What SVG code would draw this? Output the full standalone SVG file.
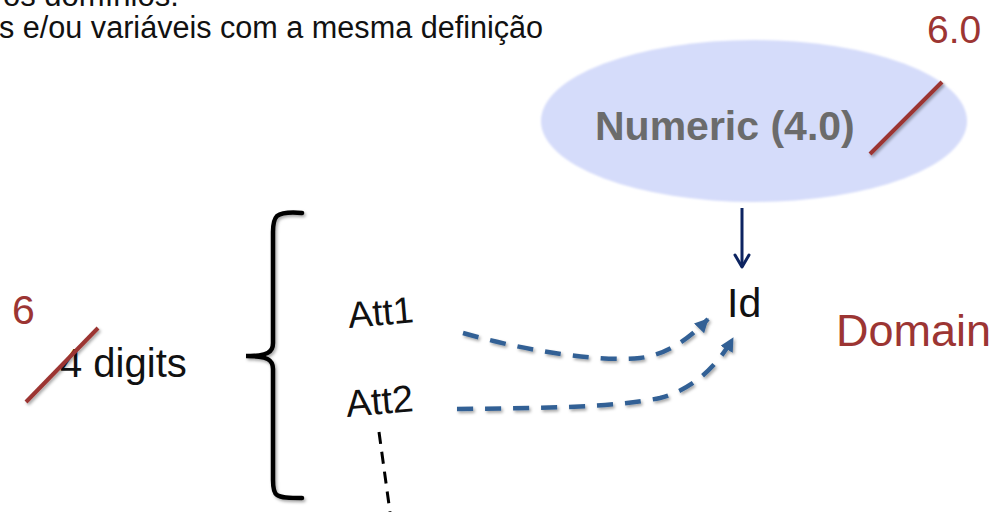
<svg xmlns="http://www.w3.org/2000/svg" width="997" height="512" viewBox="0 0 997 512">
<defs>
<style>
.txt{font-family:"Liberation Sans",Arial,sans-serif;fill:#111}
.red{font-family:"Liberation Sans",Arial,sans-serif;fill:#9c3533}
.slash{stroke:#9c3533;stroke-width:4;stroke-linecap:butt;fill:none}
.blue{stroke:#336195;stroke-width:4.5;fill:none;stroke-dasharray:16 12}
</style>
<filter id="sh" x="-20%" y="-20%" width="140%" height="140%">
<feDropShadow dx="1.5" dy="2" stdDeviation="1.5" flood-color="#000" flood-opacity="0.35"/>
</filter>
<filter id="soft" x="-5%" y="-5%" width="110%" height="110%">
<feGaussianBlur stdDeviation="1"/>
</filter>
<marker id="bh" viewBox="0 0 14 14" refX="13" refY="7" markerWidth="14" markerHeight="14" markerUnits="userSpaceOnUse" orient="auto">
<path d="M0,0 L14,7 L0,14 z" fill="#336195"/>
</marker>
</defs>

<g id="header">
<text class="txt" x="3" y="6" font-size="31">os domínios.</text>
<text class="txt" x="-1" y="38" font-size="30.6">s e/ou variáveis com a mesma definição</text>
</g>

<g id="numeric">
<ellipse cx="754" cy="121" rx="213" ry="81" fill="#d5dcfa" filter="url(#soft)"/>
<text x="595" y="140" font-family="Liberation Sans,Arial,sans-serif" font-weight="bold" font-size="41" fill="#6b6b6b">Numeric (4.0)</text>
<line class="slash" x1="870" y1="154" x2="942" y2="82" filter="url(#sh)"/>
<text class="red" x="927" y="43" font-size="39">6.0</text>
</g>

<g id="id">
<text class="txt" x="727" y="317" font-size="41">Id</text>
</g>

<g id="domain">
<text class="red" x="836" y="346" font-size="45">Domain</text>
</g>

<g id="digits">
<text class="red" x="12" y="324" font-size="41">6</text>
<text class="txt" x="60" y="377" font-size="40">4 digits</text>
<line class="slash" x1="26" y1="402" x2="98" y2="328" filter="url(#sh)"/>
</g>

<g id="brace">
<path d="M302,213 C290,212 281,213 277,216 C274,219 273,224 273,232 L273,343 C273,352 268,356 246,356 C268,356 273,360 273,369 L273,480 C273,488 274,493 277,495 C281,498 290,498 302,498" fill="none" stroke="#000" stroke-width="4.5" stroke-linecap="round" filter="url(#sh)"/>
</g>

<g id="att1">
<text class="txt" x="349" y="328" font-size="37" transform="rotate(-5 349 328)">Att1</text>
</g>
<g id="att2">
<text class="txt" x="347" y="417" font-size="38" transform="rotate(-5 347 417)">Att2</text>
</g>

<g id="connectors">
<line x1="742" y1="208" x2="742" y2="267" stroke="#0d2461" stroke-width="3"/>
<polyline points="735,255 742,267 749,255" fill="none" stroke="#0d2461" stroke-width="3" stroke-linecap="round" stroke-linejoin="round"/>
<path class="blue" d="M463,333 C530,352 600,362 640,358 C665,355 688,340 708,319" marker-end="url(#bh)" filter="url(#sh)"/>
<path class="blue" d="M457,409 C540,408 610,408 660,398 C690,390 715,370 733,338" marker-end="url(#bh)" filter="url(#sh)"/>
<line x1="379" y1="432" x2="390" y2="512" stroke="#000" stroke-width="3" stroke-dasharray="12 8"/>
</g>
</svg>
